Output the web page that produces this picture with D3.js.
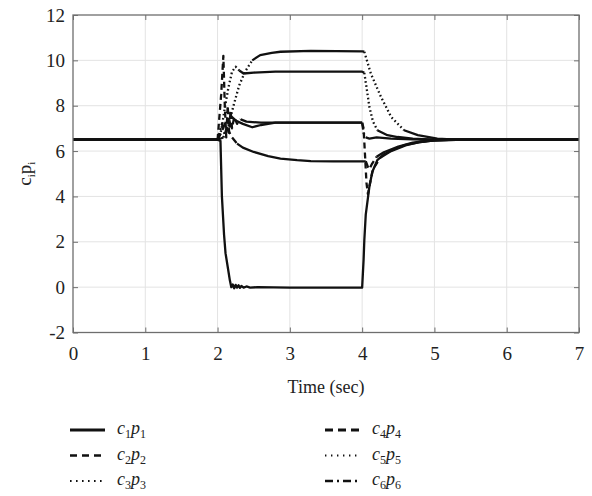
<!DOCTYPE html>
<html>
<head>
<meta charset="utf-8">
<script src="https://cdn.jsdelivr.net/npm/d3@7"></script>
<style>
  body { margin: 0; background: #fff; }
  svg { display: block; }
</style>
</head>
<body>
<div id="vis"></div>
<script>
// time axis ticks and value axis ticks
const X_TICKS = [0, 1, 2, 3, 4, 5, 6, 7];
const Y_TICKS = [-2, 0, 2, 4, 6, 8, 10, 12];

// c1p1 : solid, drops to zero between t=2 and t=4
const T_C1P1 = [0, 2.0, 2.04, 2.06, 2.09, 2.11, 2.15, 2.17, 2.19, 2.21, 2.23, 2.25, 2.27, 2.29, 2.31, 2.33, 2.36, 2.40, 2.45, 2.55, 3.0, 4.0,
                4.02, 4.03, 4.05, 4.10, 4.14, 4.21, 4.3, 4.45, 4.6, 4.8, 5.0, 5.3, 7];
const V_C1P1 = [6.5, 6.5, 6.45, 4.0, 2.3, 1.5, 0.7, 0.3, 0.0, 0.12, -0.05, 0.1, -0.02, 0.08, -0.03, 0.05, -0.02, 0.03, -0.02, 0, -0.02, -0.02,
                1.2, 2.06, 3.2, 4.42, 5.08, 5.6, 5.85, 6.1, 6.27, 6.4, 6.47, 6.5, 6.5];

// c2p2 : dashed, spike to ~10.2 then settles near 7.25
const T_C2P2 = [0, 2.0, 2.05, 2.08, 2.10, 2.12, 2.14, 2.16, 2.18, 2.20, 2.23, 2.27, 2.32, 2.4, 2.6, 4.0,
                4.02, 4.04, 4.06, 4.08, 4.11, 4.15, 4.25, 4.4, 4.6, 4.8, 5.0, 5.3, 7];
const V_C2P2 = [6.5, 6.5, 8.5, 10.2, 8.0, 6.6, 8.0, 6.8, 7.8, 7.0, 7.5, 7.2, 7.4, 7.3, 7.25, 7.25,
                7.0, 5.8, 4.6, 4.1, 4.6, 5.2, 5.7, 6.0, 6.25, 6.4, 6.47, 6.5, 6.5];

// c3p3 : dotted, rises to ~10.4
const T_C3P3 = [0, 2.0, 2.08, 2.15, 2.22, 2.30, 2.38, 2.41, 2.48, 2.59, 2.75, 2.87, 3.29, 4.0,
                4.03, 4.12, 4.26, 4.40, 4.58, 4.77, 5.04, 5.3, 7];
const V_C3P3 = [6.5, 6.5, 6.6, 7.1, 8.0, 8.9, 9.5, 9.65, 10.0, 10.23, 10.33, 10.38, 10.42, 10.4,
                10.38, 9.42, 8.39, 7.51, 6.92, 6.70, 6.55, 6.5, 6.5];

// c4p4 : dashed, settles near 5.55
const T_C4P4 = [0, 2.0, 2.05, 2.1, 2.15, 2.2, 2.27, 2.35, 2.5, 2.7, 2.87, 3.1, 3.29, 3.6, 4.0,
                4.05, 4.08, 4.1, 4.13, 4.2, 4.3, 4.5, 4.7, 4.9, 5.2, 7];
const V_C4P4 = [6.5, 6.5, 6.8, 7.2, 6.9, 6.6, 6.33, 6.15, 5.96, 5.78, 5.67, 5.6, 5.56, 5.55, 5.55,
                5.55, 5.3, 5.2, 5.4, 5.75, 5.95, 6.2, 6.37, 6.45, 6.5, 6.5];

// c5p5 : dotted, settles near 9.5
const T_C5P5 = [0, 2.0, 2.05, 2.1, 2.15, 2.2, 2.25, 2.3, 2.36, 2.5, 2.8, 4.0,
                4.03, 4.07, 4.10, 4.15, 4.21, 4.35, 4.49, 4.7, 5.0, 7];
const V_C5P5 = [6.5, 6.5, 6.9, 7.9, 8.8, 9.5, 9.72, 9.55, 9.42, 9.46, 9.5, 9.5,
                9.45, 8.6, 7.95, 7.3, 6.92, 6.7, 6.62, 6.55, 6.5, 6.5];

// c6p6 : dash-dot, settles near 7.25
const T_C6P6 = [0, 2.0, 2.06, 2.1, 2.15, 2.2, 2.25, 2.35, 2.48, 2.6, 2.8, 4.0,
                4.02, 4.05, 4.1, 4.2, 4.4, 4.7, 5.0, 5.3, 7];
const V_C6P6 = [6.5, 6.5, 7.2, 6.7, 7.4, 7.5, 7.35, 7.2, 7.05, 7.15, 7.25, 7.25,
                6.8, 6.6, 6.55, 6.6, 6.55, 6.52, 6.5, 6.5, 6.5];

const SERIES_NAMES = ["1", "2", "3", "4", "5", "6"];
const SERIES_T = [T_C1P1, T_C2P2, T_C3P3, T_C4P4, T_C5P5, T_C6P6];
const SERIES_V = [V_C1P1, V_C2P2, V_C3P3, V_C4P4, V_C5P5, V_C6P6];

// line styles (plot dash, legend dash, legend width)
const STYLES = [
  {plot: null,        legend: null,        lw: 3},
  {plot: "6,4",       legend: "7,5",       lw: 2.4},
  {plot: "1.6,2.6",   legend: "1.6,4.4",   lw: 2.2},
  {plot: "7,4",       legend: "8,5",       lw: 3.2},
  {plot: "1.6,2.6",   legend: "1.4,4.6",   lw: 1.8},
  {plot: "7,3,2,3",   legend: "8,4,2,4",   lw: 2.6}
];

// frame
const FRAME_WIDTH = 592;
const FRAME_HEIGHT = 496;
const PLOT = {left: 73, right: 579, top: 15, bottom: 332.5};
const FONT = "'Liberation Serif', 'DejaVu Serif', serif";

const svg = d3.select("#vis")
  .append("svg")
  .attr("width", FRAME_WIDTH)
  .attr("height", FRAME_HEIGHT);

const X_SCALE = d3.scaleLinear().domain([0, 7]).range([PLOT.left, PLOT.right]);
const Y_SCALE = d3.scaleLinear().domain([-2, 12]).range([PLOT.bottom, PLOT.top]);

// grid lines
svg.append("g")
  .selectAll("line")
  .data(X_TICKS.slice(1, -1))
  .enter().append("line")
    .attr("x1", d => X_SCALE(d)).attr("x2", d => X_SCALE(d))
    .attr("y1", PLOT.top).attr("y2", PLOT.bottom)
    .attr("stroke", "#e3e3e3").attr("stroke-width", 1);

svg.append("g")
  .selectAll("line")
  .data(Y_TICKS.slice(1, -1))
  .enter().append("line")
    .attr("x1", PLOT.left).attr("x2", PLOT.right)
    .attr("y1", d => Y_SCALE(d)).attr("y2", d => Y_SCALE(d))
    .attr("stroke", "#e3e3e3").attr("stroke-width", 1);

// clip
svg.append("clipPath").attr("id", "clip")
  .append("rect")
    .attr("x", PLOT.left).attr("y", PLOT.top)
    .attr("width", PLOT.right - PLOT.left)
    .attr("height", PLOT.bottom - PLOT.top);

const lineGen = d3.line()
  .x(d => X_SCALE(d[0]))
  .y(d => Y_SCALE(d[1]));

const plotG = svg.append("g").attr("clip-path", "url(#clip)");

// draws each series; steep parts show the dash pattern, flat parts look solid
SERIES_T.forEach((ts, k) => {
  const pts = ts.map((t, i) => [t, SERIES_V[k][i]]);
  const style = STYLES[k];
  let runs = [];
  let cur = null;
  for (let i = 0; i < pts.length - 1; i++) {
    const dx = Math.abs(X_SCALE(pts[i + 1][0]) - X_SCALE(pts[i][0]));
    const dy = Math.abs(Y_SCALE(pts[i + 1][1]) - Y_SCALE(pts[i][1]));
    const steep = style.plot !== null && dy > 1.0 * dx;
    if (!cur || cur.steep !== steep) {
      cur = {steep: steep, pts: [pts[i]]};
      runs.push(cur);
    }
    cur.pts.push(pts[i + 1]);
  }
  runs.forEach(r => {
    plotG.append("path")
      .attr("d", lineGen(r.pts))
      .attr("fill", "none")
      .attr("stroke", "#111")
      .attr("stroke-width", 2.3)
      .attr("stroke-linejoin", "round")
      .attr("stroke-dasharray", r.steep ? style.plot : null);
  });
});

// axes box
const AXIS_COLOR = "#6e6e6e";
svg.append("rect")
  .attr("x", PLOT.left).attr("y", PLOT.top)
  .attr("width", PLOT.right - PLOT.left)
  .attr("height", PLOT.bottom - PLOT.top)
  .attr("fill", "none")
  .attr("stroke", AXIS_COLOR)
  .attr("stroke-width", 1.3);

// plain integer labels with a hyphen minus
const tickFmt = d => String(d);

// bottom axis (inward ticks)
const xAxis = svg.append("g")
  .attr("transform", "translate(0," + PLOT.bottom + ")")
  .call(d3.axisBottom(X_SCALE).tickValues(X_TICKS).tickFormat(tickFmt)
          .tickSizeInner(-5).tickSizeOuter(0).tickPadding(14));
xAxis.select(".domain").remove();
xAxis.selectAll("line").attr("stroke", AXIS_COLOR);
xAxis.selectAll("text").attr("font-family", FONT).attr("font-size", "19px").attr("fill", "#222");

// top ticks
svg.append("g")
  .attr("transform", "translate(0," + PLOT.top + ")")
  .call(d3.axisTop(X_SCALE).tickValues(X_TICKS).tickSizeInner(-5).tickSizeOuter(0).tickFormat(""))
  .call(g => g.select(".domain").remove())
  .selectAll("line").attr("stroke", AXIS_COLOR);

// left axis
const yAxis = svg.append("g")
  .attr("transform", "translate(" + PLOT.left + ",0)")
  .call(d3.axisLeft(Y_SCALE).tickValues(Y_TICKS).tickFormat(tickFmt)
          .tickSizeInner(-5).tickSizeOuter(0).tickPadding(8));
yAxis.select(".domain").remove();
yAxis.selectAll("line").attr("stroke", AXIS_COLOR);
yAxis.selectAll("text").attr("font-family", FONT).attr("font-size", "19px").attr("fill", "#222");

// right ticks
svg.append("g")
  .attr("transform", "translate(" + PLOT.right + ",0)")
  .call(d3.axisRight(Y_SCALE).tickValues(Y_TICKS).tickSizeInner(-5).tickSizeOuter(0).tickFormat(""))
  .call(g => g.select(".domain").remove())
  .selectAll("line").attr("stroke", AXIS_COLOR);

// x label
svg.append("text")
  .attr("x", (PLOT.left + PLOT.right) / 2)
  .attr("y", 393)
  .attr("text-anchor", "middle")
  .attr("font-family", FONT)
  .attr("font-size", "18px")
  .attr("fill", "#222")
  .text("Time (sec)");

// y label
const yLab = svg.append("text")
  .attr("transform", "translate(31," + ((PLOT.top + PLOT.bottom) / 2) + ") rotate(-90)")
  .attr("text-anchor", "middle")
  .attr("font-family", FONT)
  .attr("font-size", "19px")
  .attr("fill", "#222");
yLab.append("tspan").text("c");
yLab.append("tspan").attr("dy", 4).attr("font-size", "11px").text("i");
yLab.append("tspan").attr("dy", -4).text("p");
yLab.append("tspan").attr("dy", 4).attr("font-size", "11px").text("i");

// legend
const LEG_COLS = [{x: 70, tx: 117}, {x: 325, tx: 372}];
const LEG_ROWS = [430, 455.5, 481];
SERIES_NAMES.forEach((name, k) => {
  const col = LEG_COLS[Math.floor(k / 3)];
  const y = LEG_ROWS[k % 3];
  const style = STYLES[k];
  svg.append("line")
    .attr("x1", col.x).attr("x2", col.x + 35)
    .attr("y1", y).attr("y2", y)
    .attr("stroke", "#111")
    .attr("stroke-width", style.lw)
    .attr("stroke-dasharray", style.legend);
  const t = svg.append("text")
    .attr("x", col.tx).attr("y", y + 4)
    .attr("font-family", FONT)
    .attr("font-size", "18px")
    .attr("fill", "#222");
  t.append("tspan").attr("font-style", "italic").text("c");
  t.append("tspan").attr("dy", 4).attr("font-size", "12px").text(name);
  t.append("tspan").attr("dy", -4).attr("font-style", "italic").text("p");
  t.append("tspan").attr("dy", 4).attr("font-size", "12px").text(name);
});
</script>
</body>
</html>
